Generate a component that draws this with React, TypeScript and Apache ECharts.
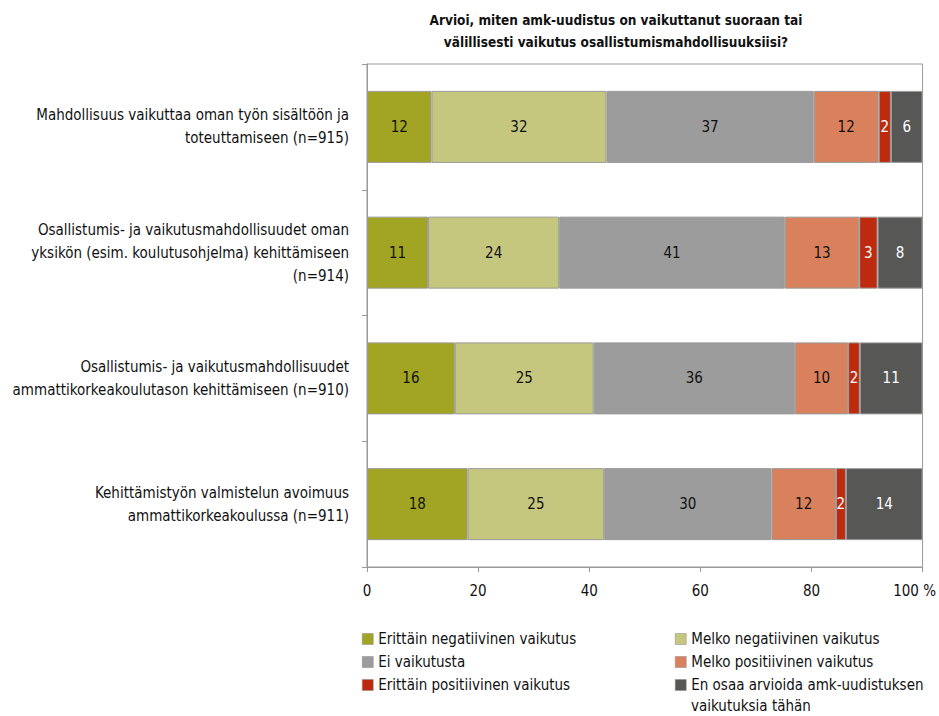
import React, { useEffect, useRef } from "react";
import * as echarts from "echarts";

const categories = [
  "Mahdollisuus vaikuttaa oman työn sisältöön ja\ntoteuttamiseen (n=915)",
  "Osallistumis- ja vaikutusmahdollisuudet oman\nyksikön (esim. koulutusohjelma) kehittämiseen\n(n=914)",
  "Osallistumis- ja vaikutusmahdollisuudet\nammattikorkeakoulutason kehittämiseen (n=910)",
  "Kehittämistyön valmistelun avoimuus\nammattikorkeakoulussa (n=911)",
];

const seriesNames = [
  "Erittäin negatiivinen vaikutus",
  "Melko negatiivinen vaikutus",
  "Ei vaikutusta",
  "Melko positiivinen vaikutus",
  "Erittäin positiivinen vaikutus",
  "En osaa arvioida amk-uudistuksen vaikutuksia tähän",
];

const erittainNegatiivinen = [11.6, 11.0, 15.8, 18.1];
const melkoNegatiivinen = [31.5, 23.6, 25.0, 24.6];
const eiVaikutusta = [37.3, 40.6, 36.2, 30.1];
const melkoPositiivinen = [11.7, 13.4, 9.6, 11.6];
const erittainPositiivinen = [2.2, 3.3, 2.1, 1.8];
const enOsaa = [5.7, 8.1, 11.3, 13.8];

const xTicks = [0, 20, 40, 60, 80, 100];

const colors = ["#A2A523", "#C6C77F", "#9C9C9C", "#D9805D", "#BE2A0E", "#575756"];
const labelColors = ["#111", "#111", "#111", "#111", "#fff", "#fff"];

const FONT = "'DejaVu Sans Condensed', 'Liberation Sans Narrow', 'Noto Sans', sans-serif";

export default function App() {
  const ref = useRef<HTMLDivElement>(null);
  useEffect(() => {
    document.body.style.margin = "0";
    if (!ref.current) return;
    const chart = echarts.init(ref.current, undefined, { renderer: "svg" });
    const values = [
      erittainNegatiivinen,
      melkoNegatiivinen,
      eiVaikutusta,
      melkoPositiivinen,
      erittainPositiivinen,
      enOsaa,
    ];
    const legendPos = [
      [362, 628],
      [675, 628],
      [362, 651],
      [675, 651],
      [362, 674],
      [675, 674],
    ];
    chart.setOption({
      animation: false,
      textStyle: { fontFamily: FONT },
      title: {
        text: "Arvioi, miten amk-uudistus on vaikuttanut suoraan tai\nvälillisesti vaikutus osallistumismahdollisuuksiisi?",
        left: 611,
        top: 4,
        textAlign: "center",
        textStyle: {
          fontFamily: FONT,
          fontSize: 13.5,
          fontWeight: "bold",
          color: "#111",
          lineHeight: 22,
        },
      },
      legend: seriesNames.map((n, i) => ({
        data: [n],
        left: legendPos[i][0],
        top: legendPos[i][1],
        padding: 0,
        icon: "rect",
        itemWidth: 11,
        itemHeight: 11,
        itemStyle: { borderColor: "#888", borderWidth: 0.5 },
        selectedMode: false,
        formatter: (name: string) =>
          name === seriesNames[5] ? "En osaa arvioida amk-uudistuksen" : name,
        textStyle: {
          fontFamily: FONT,
          fontSize: 15,
          color: "#111",
          lineHeight: 22,
        },
      })),
      graphic: [
        {
          type: "text",
          left: 691,
          top: 698,
          style: {
            text: "vaikutuksia tähän",
            font: `15px ${FONT}`,
            fill: "#111",
          },
        },
      ],
      grid: {
        left: 367,
        right: 14,
        top: 64,
        bottom: 149,
        show: true,
        borderColor: "#999",
        borderWidth: 1,
      },
      xAxis: {
        type: "value",
        min: 0,
        max: 100,
        interval: 20,
        splitLine: { show: false },
        axisLine: { show: true, lineStyle: { color: "#999" } },
        axisTick: { show: true, length: 5, lineStyle: { color: "#999" } },
        axisLabel: {
          fontFamily: FONT,
          fontSize: 15,
          color: "#111",
          margin: 16,
          customValues: xTicks,
          formatter: (v: number) => (v === 100 ? "{p|100 %}" : String(v)),
          rich: {
            p: { fontFamily: FONT, fontSize: 15, color: "#111", padding: [0, 16, 0, 0] },
          },
        },
      },
      yAxis: {
        type: "category",
        inverse: true,
        data: categories,
        axisLine: { show: true, lineStyle: { color: "#999" } },
        axisTick: { show: true, length: 5, alignWithLabel: false, lineStyle: { color: "#999" } },
        axisLabel: {
          fontFamily: FONT,
          fontSize: 15,
          color: "#111",
          lineHeight: 23,
          align: "right",
          margin: 18,
        },
      },
      series: seriesNames.map((n, i) => ({
        name: n,
        type: "bar",
        stack: "total",
        barWidth: 72,
        data: values[i],
        itemStyle: { color: colors[i], borderColor: "#999", borderWidth: 1 },
        label: {
          show: true,
          position: "inside",
          fontFamily: FONT,
          fontSize: 15,
          color: labelColors[i],
          formatter: (p: any) => String(Math.round(p.value)),
        },
      })),
    });
    return () => chart.dispose();
  }, []);
  return <div ref={ref} style={{ width: 939, height: 716 }} />;
}
